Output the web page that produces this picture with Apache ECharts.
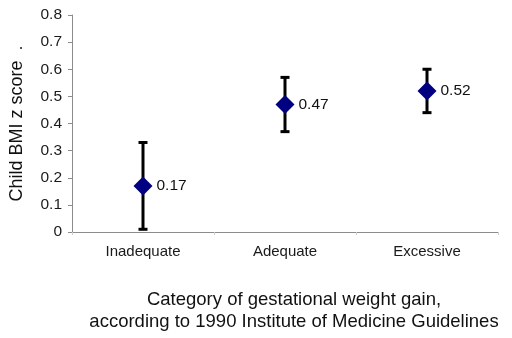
<!DOCTYPE html>
<html>
<head>
<meta charset="utf-8">
<script src="https://cdn.jsdelivr.net/npm/echarts@6/dist/echarts.min.js"></script>
<style>
  html, body { margin: 0; padding: 0; background: #fff; }
  #chart { width: 512px; height: 338px; }
</style>
</head>
<body>
<div id="chart"></div>
<script>
// values
var categories = ['Inadequate', 'Adequate', 'Excessive'];
var means = [0.17, 0.47, 0.52];
var lower = [0.01, 0.37, 0.44];
var upper = [0.33, 0.57, 0.60];
var yTicks = [0, 0.1, 0.2, 0.3, 0.4, 0.5, 0.6, 0.7, 0.8];

var errData = categories.map(function (c, i) {
  return [i, lower[i], upper[i]];
});

var myChart = echarts.init(document.getElementById('chart'));
myChart.setOption({
  animation: false,
  textStyle: { fontFamily: 'Liberation Sans, Arial, sans-serif' },
  grid: { left: 71, right: 14, top: 15, bottom: 106 },
  xAxis: {
    type: 'category',
    data: categories,
    boundaryGap: true,
    axisLine: { lineStyle: { color: '#8c8c8c', width: 1 } },
    axisTick: { show: true, length: 3, lineStyle: { color: '#ccc' } },
    axisLabel: { color: '#1a1a1a', fontSize: 15, margin: 12 },
    name: 'Category of gestational weight gain,\naccording to 1990 Institute of Medicine Guidelines',
    nameLocation: 'middle',
    nameGap: 57,
    nameTextStyle: { color: '#111', fontSize: 18.5, lineHeight: 22, padding: [0, 0, 0, 18] }
  },
  yAxis: {
    type: 'value',
    min: yTicks[0],
    max: yTicks[yTicks.length - 1],
    interval: 0.1,
    splitLine: { show: false },
    axisLine: { show: true, lineStyle: { color: '#8c8c8c', width: 1 } },
    axisTick: { show: true, length: 4, lineStyle: { color: '#8c8c8c' } },
    axisLabel: {
      color: '#1a1a1a', fontSize: 15.5, margin: 10,
      formatter: function (v) { return String(Math.round(v * 10) / 10); }
    },
    name: 'Child BMI z score  .',
    nameLocation: 'middle',
    nameGap: 46,
    nameTextStyle: { color: '#111', fontSize: 18 }
  },
  series: [
    {
      type: 'custom',
      data: errData,
      z: 2,
      renderItem: function (params, api) {
        var lo = api.coord([api.value(0), api.value(1)]);
        var hi = api.coord([api.value(0), api.value(2)]);
        var cap = 4.5;
        var st = { stroke: '#000', lineWidth: 3 };
        return {
          type: 'group',
          children: [
            { type: 'line', shape: { x1: lo[0], y1: lo[1], x2: hi[0], y2: hi[1] }, style: st },
            { type: 'line', shape: { x1: lo[0] - cap, y1: lo[1], x2: lo[0] + cap, y2: lo[1] }, style: st },
            { type: 'line', shape: { x1: hi[0] - cap, y1: hi[1], x2: hi[0] + cap, y2: hi[1] }, style: st }
          ]
        };
      }
    },
    {
      type: 'scatter',
      data: means,
      z: 3,
      symbol: 'diamond',
      symbolSize: [19, 19],
      itemStyle: { color: '#000080', opacity: 1 },
      emphasis: { disabled: true },
      label: {
        show: true,
        position: 'right',
        distance: 4,
        color: '#111',
        fontSize: 15.5,
        formatter: function (p) { return p.value.toFixed(2); }
      }
    }
  ]
});
</script>
</body>
</html>
